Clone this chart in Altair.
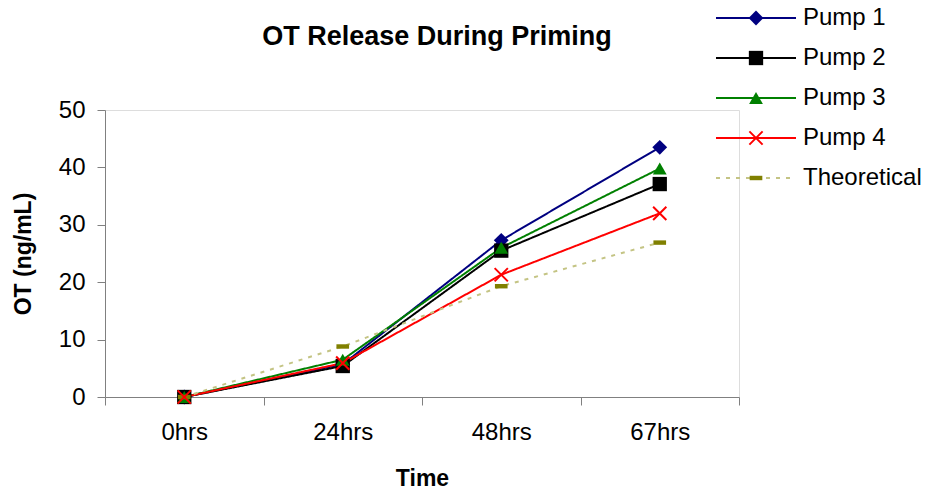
import altair as alt
import pandas as pd

title_text = "OT Release During Priming"
times = ["0hrs", "24hrs", "48hrs", "67hrs"]
series = ["Pump 1", "Pump 2", "Pump 3", "Pump 4", "Theoretical"]
pump1 = [0, 5.7, 27.3, 43.5]
pump2 = [0, 5.4, 25.5, 37.1]
pump3 = [0, 6.5, 26.0, 39.8]
pump4 = [0, 5.9, 21.3, 32.0]
theoretical = [0, 8.8, 19.3, 26.9]

line_colors = ["#000080", "#000000", "#008000", "#FF0000", "#C4C484"]
marker_colors = ["#000080", "#000000", "#008000", "#FF0000", "#808000"]
shapes = ["diamond", "square", "triangle-up",
          "M-1,-1L1,1M-1,1L1,-1", "M-1,-0.35H1V0.35H-1Z"]
sizes = [220, 160, 240, 180, 210]
dashes = [[1, 0], [1, 0], [1, 0], [1, 0], [4, 6]]

values = [pump1, pump2, pump3, pump4, theoretical]
rows = []
for s, vals in zip(series, values):
    for t, v in zip(times, vals):
        rows.append({"series": s, "time": t, "ot": v})
df = pd.DataFrame(rows)
leg = pd.DataFrame({"series": series})
ttl = pd.DataFrame({"title": [title_text]})

FONT = "Liberation Sans"

x_enc = alt.X("time:N", sort=times,
              scale=alt.Scale(domain=times, paddingInner=0, paddingOuter=0),
              axis=alt.Axis(title="Time", labelAngle=0, tickBand="extent",
                            tickSize=8, labelPadding=15, labelFontSize=24,
                            titleFontSize=23, titleFontWeight="bold",
                            titleY=88, titleBaseline="alphabetic",
                            domainColor="#808080", tickColor="#808080",
                            labelColor="#000000", titleColor="#000000",
                            labelFont=FONT, titleFont=FONT))
y_enc = alt.Y("ot:Q", scale=alt.Scale(domain=[0, 50]),
              axis=alt.Axis(title="OT (ng/mL)", values=[0, 10, 20, 30, 40, 50],
                            grid=False, tickSize=8, labelPadding=12,
                            labelFontSize=24, titleFontSize=23,
                            titleFontWeight="bold", titleX=-75,
                            titleBaseline="alphabetic",
                            domainColor="#808080", tickColor="#808080",
                            labelColor="#000000", titleColor="#000000",
                            labelFont=FONT, titleFont=FONT))

stroke_scale = alt.Scale(domain=series, range=line_colors)
fill_scale = alt.Scale(domain=series, range=marker_colors)
shape_scale = alt.Scale(domain=series, range=shapes)
size_scale = alt.Scale(domain=series, range=sizes)
dash_scale = alt.Scale(domain=series, range=dashes)

base = alt.Chart(df)

lines = base.mark_line(strokeWidth=2).encode(
    x=x_enc, y=y_enc,
    stroke=alt.Stroke("series:N", scale=stroke_scale, legend=None),
    strokeDash=alt.StrokeDash("series:N", scale=dash_scale, legend=None),
    detail="series:N",
)

filled_pts = base.transform_filter(alt.datum.series != "Pump 4").mark_point(
    filled=True, opacity=1, strokeWidth=0).encode(
    x=x_enc, y=y_enc,
    fill=alt.Fill("series:N", scale=fill_scale, legend=None),
    shape=alt.Shape("series:N", scale=shape_scale, legend=None),
    size=alt.Size("series:N", scale=size_scale, legend=None),
)

cross_pts = base.transform_filter(alt.datum.series == "Pump 4").mark_point(
    filled=False, opacity=1, strokeWidth=2).encode(
    x=x_enc, y=y_enc,
    stroke=alt.Stroke("series:N", scale=stroke_scale, legend=None),
    shape=alt.Shape("series:N", scale=shape_scale, legend=None),
    size=alt.Size("series:N", scale=size_scale, legend=None),
)

leg_y = alt.Y("series:N", axis=None,
              scale=alt.Scale(type="point", domain=series, range=[-92, 68],
                              padding=0))
legbase = alt.Chart(leg)

leg_lines = legbase.mark_rule(strokeWidth=2).encode(
    x=alt.value(611), x2=alt.value(691), y=leg_y,
    stroke=alt.Stroke("series:N", scale=stroke_scale, legend=None),
    strokeDash=alt.StrokeDash("series:N", scale=dash_scale, legend=None),
)
leg_filled = legbase.transform_filter(alt.datum.series != "Pump 4").mark_point(
    filled=True, opacity=1, strokeWidth=0).encode(
    x=alt.value(651), y=leg_y,
    fill=alt.Fill("series:N", scale=fill_scale, legend=None),
    shape=alt.Shape("series:N", scale=shape_scale, legend=None),
    size=alt.Size("series:N", scale=size_scale, legend=None),
)
leg_cross = legbase.transform_filter(alt.datum.series == "Pump 4").mark_point(
    filled=False, opacity=1, strokeWidth=2).encode(
    x=alt.value(651), y=leg_y,
    stroke=alt.Stroke("series:N", scale=stroke_scale, legend=None),
    shape=alt.Shape("series:N", scale=shape_scale, legend=None),
    size=alt.Size("series:N", scale=size_scale, legend=None),
)
leg_text = legbase.mark_text(align="left", baseline="middle", fontSize=24,
                             font=FONT, color="#000000").encode(
    x=alt.value(698), y=leg_y, text="series:N",
)

title_mark = alt.Chart(ttl).mark_text(
    align="center", baseline="alphabetic", fontSize=27, fontWeight="bold",
    font=FONT, color="#000000").encode(
    x=alt.value(332), y=alt.value(-65), text="title:N",
)

main = alt.layer(lines, filled_pts, cross_pts)
legend = alt.layer(leg_lines, leg_filled, leg_cross, leg_text)

chart = alt.layer(main, legend, title_mark).resolve_scale(
    y="independent").properties(
    width=634, height=287,
    autosize=alt.AutoSizeParams(type="none"),
    padding={"left": 105, "top": 110, "right": 191, "bottom": 96},
).configure_view(stroke=None).configure(background="#FFFFFF")

chart.save("out.html", embed_options={"renderer": "svg", "actions": False})
